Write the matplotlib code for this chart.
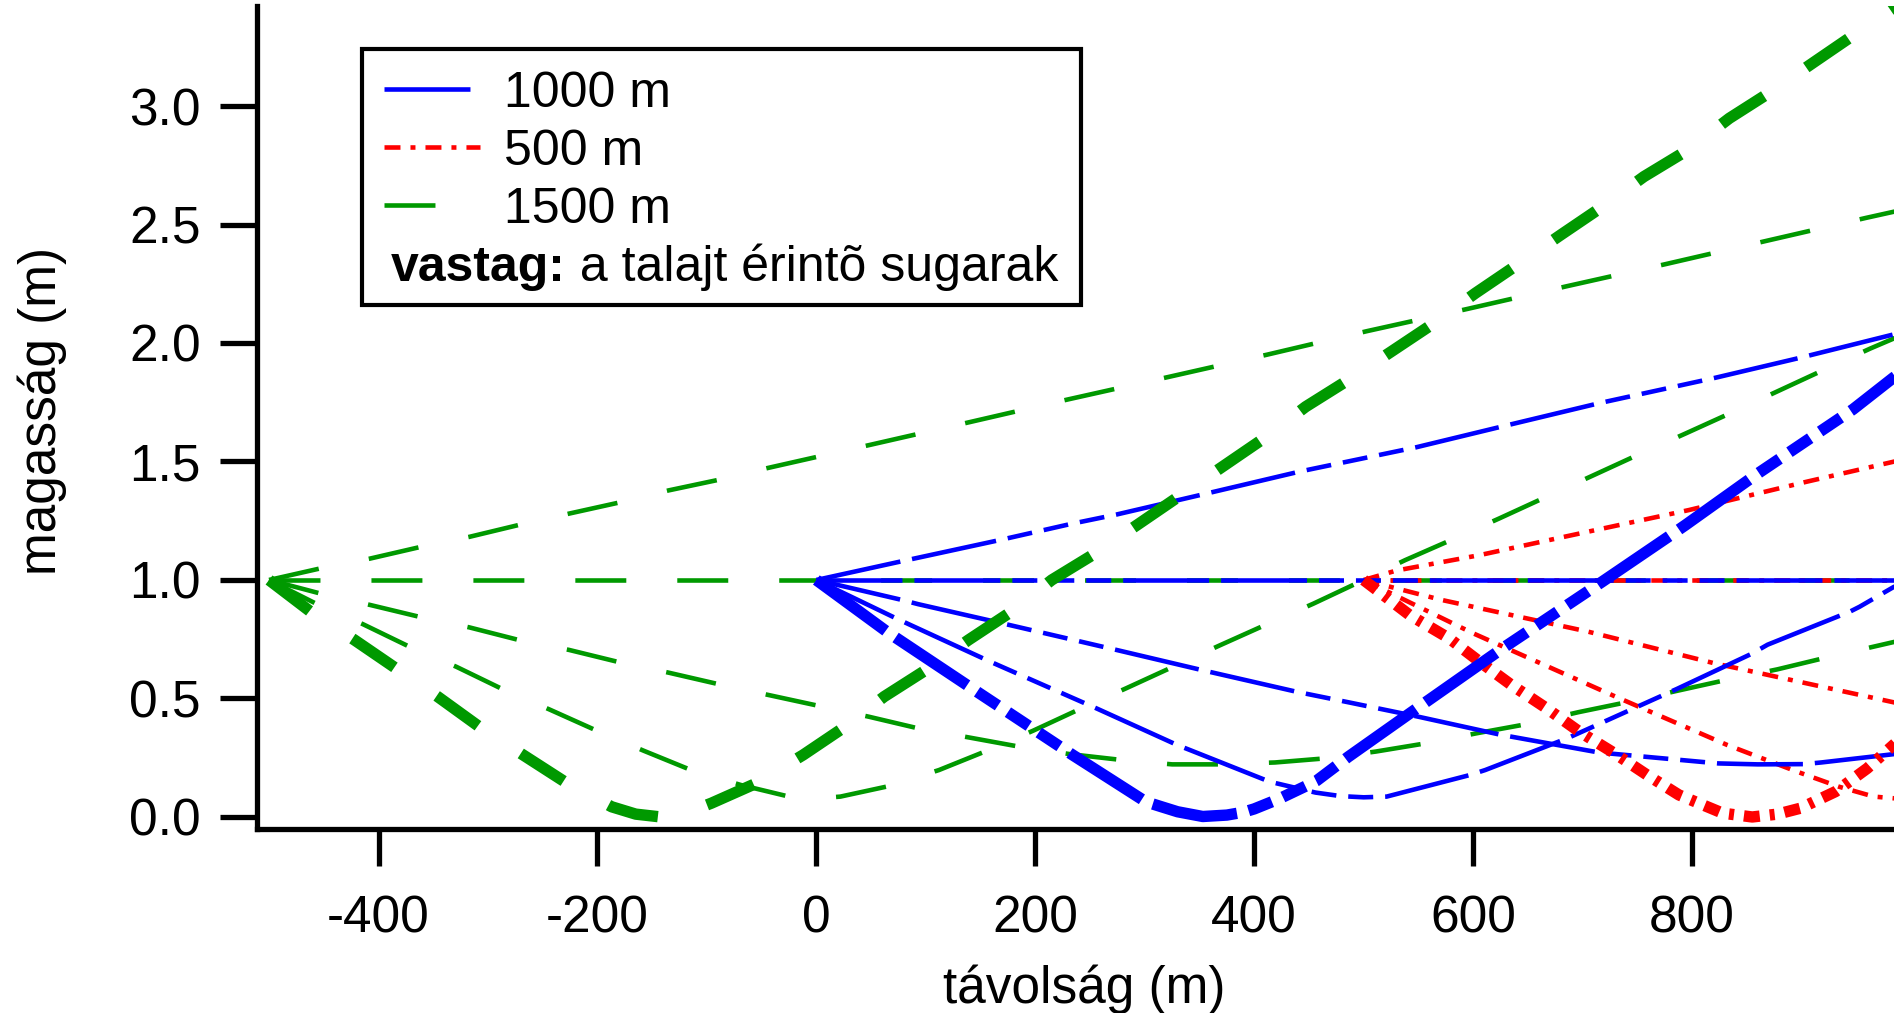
import matplotlib
matplotlib.use("Agg")
import matplotlib.pyplot as plt
from matplotlib.patches import Rectangle

plt.rcParams['font.family'] = ['Liberation Sans', 'DejaVu Sans']
plt.rcParams['axes.unicode_minus'] = False
plt.rcParams['lines.scale_dashes'] = False

# --- ray paths (distance m, height m) ---
# 1500 m source at x = -500
g_up_x = [-500, -454, -408, -363, -317, -272, -226, -180, -135, -89, -44, 48, 139, 229, 321, 412, 503, 595, 686, 776, 867, 959, 1000]
g_up_y = [1.0, 1.048, 1.09, 1.138, 1.182, 1.232, 1.28, 1.327, 1.378, 1.423, 1.473, 1.569, 1.665, 1.761, 1.856, 1.951, 2.05, 2.144, 2.24, 2.333, 2.43, 2.528, 2.57]
g_h_x = [-500, 1000]
g_h_y = [1.0, 1.0]
g_d1_x = [-500, -454, -408, -363, -317, -272, -226, -180, -135, -89, -44, 48, 93, 140, 185, 232, 278, 325, 371, 419, 464, 511, 557, 603, 648, 696, 740, 786, 831, 878, 922, 969, 1000]
g_d1_y = [1.0, 0.944, 0.895, 0.845, 0.80, 0.747, 0.705, 0.653, 0.609, 0.56, 0.515, 0.423, 0.374, 0.335, 0.297, 0.265, 0.241, 0.222, 0.222, 0.23, 0.247, 0.276, 0.311, 0.353, 0.391, 0.442, 0.484, 0.532, 0.578, 0.623, 0.672, 0.722, 0.755]
g_d2_x = [-500, -457, -414, -372, -329, -287, -244, -202, -158, -115, -69, -25, 0, 22, 67, 112, 155, 198, 240, 283, 325, 368, 410, 454, 500, 538, 580, 624, 665, 709, 750, 794, 836, 878, 921, 963, 1000]
g_d2_y = [1.0, 0.90, 0.813, 0.719, 0.634, 0.54, 0.454, 0.367, 0.28, 0.199, 0.135, 0.086, 0.078, 0.086, 0.131, 0.198, 0.278, 0.364, 0.454, 0.543, 0.632, 0.723, 0.81, 0.90, 1.0, 1.084, 1.169, 1.26, 1.347, 1.44, 1.527, 1.618, 1.706, 1.796, 1.888, 1.977, 2.05]
g_t_x = [-500, -462, -422, -384, -346, -308, -268, -230, -187, -165, -142, -120, -96, -55, -12, 24, 62, 100, 139, 178, 215, 255, 293, 331, 371, 409, 447, 486, 525, 564, 602, 640, 680, 718, 756, 796, 834, 872, 912, 950, 1000]
g_t_y = [1.0, 0.866, 0.747, 0.627, 0.508, 0.381, 0.262, 0.149, 0.043, 0.012, 0.0, 0.015, 0.058, 0.142, 0.262, 0.374, 0.508, 0.62, 0.747, 0.866, 1.0, 1.113, 1.232, 1.352, 1.478, 1.598, 1.731, 1.844, 1.963, 2.083, 2.21, 2.329, 2.456, 2.575, 2.702, 2.814, 2.948, 3.06, 3.187, 3.307, 3.465]

# 1000 m source at x = 0
b_up_x = [0, 77, 169, 233, 274, 352, 442, 548, 624, 716, 821, 899, 984, 1000]
b_up_y = [1.0, 1.078, 1.17, 1.237, 1.276, 1.36, 1.458, 1.56, 1.645, 1.747, 1.853, 1.938, 2.036, 2.053]
b_h_x = [0, 1000]
b_h_y = [1.0, 1.0]
b_d1_x = [0, 78, 93, 169, 274, 352, 439, 486, 549, 624, 715, 824, 860, 902, 918, 984, 1000]
b_d1_y = [1.0, 0.916, 0.898, 0.818, 0.705, 0.62, 0.528, 0.484, 0.424, 0.348, 0.272, 0.226, 0.222, 0.223, 0.23, 0.265, 0.278]
b_d2_x = [0, 72, 86, 159, 256, 330, 341, 414, 456, 479, 500, 521, 597, 611, 686, 786, 855, 869, 944, 953, 984, 1000]
b_d2_y = [1.0, 0.84, 0.81, 0.655, 0.458, 0.303, 0.283, 0.149, 0.103, 0.088, 0.083, 0.086, 0.177, 0.198, 0.332, 0.54, 0.69, 0.727, 0.866, 0.887, 0.97, 1.0]
b_t_x = [0, 65, 143, 234, 301, 314, 330, 353, 375, 390, 400, 422, 447, 457, 486, 551, 564, 627, 718, 783, 794, 858, 947, 984, 1000]
b_t_y = [1.0, 0.78, 0.54, 0.262, 0.064, 0.045, 0.022, 0.002, 0.008, 0.02, 0.034, 0.075, 0.13, 0.153, 0.254, 0.466, 0.508, 0.712, 0.993, 1.197, 1.232, 1.443, 1.72, 1.854, 1.905]

# 500 m source at x = 500
r_up_x = [500, 530, 606, 684, 797, 905, 984, 1000]
r_up_y = [1.0, 1.04, 1.105, 1.183, 1.295, 1.415, 1.499, 1.515]
r_h_x = [500, 1000]
r_h_y = [1.0, 1.0]
r_d1_x = [500, 571, 705, 820, 984, 1000]
r_d1_y = [1.0, 0.916, 0.782, 0.649, 0.484, 0.468]
r_d2_x = [500, 600, 730, 832, 896, 934, 966, 984, 1000]
r_d2_y = [1.0, 0.775, 0.508, 0.304, 0.191, 0.128, 0.086, 0.079, 0.077]
r_t_x = [500, 542, 578, 606, 635, 667, 697, 729, 759, 788, 828, 855, 878, 899, 931, 960, 984, 1000]
r_t_y = [1.0, 0.852, 0.754, 0.655, 0.557, 0.459, 0.36, 0.269, 0.177, 0.093, 0.016, 0.0, 0.012, 0.037, 0.107, 0.205, 0.304, 0.37]

x_ticks = [-400, -200, 0, 200, 400, 600, 800]
y_ticks = [0.0, 0.5, 1.0, 1.5, 2.0, 2.5, 3.0]
labels = ['1000 m', '500 m', '1500 m']

GREEN = '#009900'
BLUE = '#0000ff'
RED = '#ff0000'
green_ls = (0, (36.7, 36.7))
blue_ls = (0, (61.9, 8.6, 61.9, 8.6, 18, 8.6, 18, 8.6, 18, 8.6))
red_ls = (0, (11.5, 7.2, 3.6, 7.2))
thin = 3.3
thick = 8.2

W, H = 1894, 1013
fig = plt.figure(figsize=(W / 100, H / 100), dpi=100)
ax = fig.add_axes([257 / W, 1 - 829.3 / H, (1911 - 257) / W, 823.3 / H])

# thin rays
thin_rays = [
    (GREEN, green_ls, [(g_up_x, g_up_y), (g_h_x, g_h_y), (g_d1_x, g_d1_y), (g_d2_x, g_d2_y)]),
    (RED, red_ls, [(r_up_x, r_up_y), (r_h_x, r_h_y), (r_d1_x, r_d1_y), (r_d2_x, r_d2_y)]),
    (BLUE, blue_ls, [(b_up_x, b_up_y), (b_h_x, b_h_y), (b_d1_x, b_d1_y), (b_d2_x, b_d2_y)]),
]
handles = {}
for color, ls, rays in thin_rays:
    for xs, ys in rays:
        line, = ax.plot(xs, ys, color=color, linestyle=ls, linewidth=thin)
        handles.setdefault(color, line)

# thick rays: the ones touching the ground
ax.plot(g_t_x, g_t_y, color=GREEN, linestyle=green_ls, linewidth=thick)
ax.plot(r_t_x, r_t_y, color=RED, linestyle=red_ls, linewidth=thick)
ax.plot(b_t_x, b_t_y, color=BLUE, linestyle=blue_ls, linewidth=thick)

ax.set_xlim(-511, 1000)
ax.set_ylim(-0.052, 3.422)
ax.set_xticks(x_ticks)
ax.set_yticks(y_ticks)
ax.set_yticklabels([f'{v:.1f}' for v in y_ticks])
for side in ['top', 'right']:
    ax.spines[side].set_visible(False)
for side in ['left', 'bottom']:
    ax.spines[side].set_linewidth(3.8)
ax.tick_params(direction='out', length=26.6, width=3.8, labelsize=37)
ax.tick_params(axis='y', pad=14)
ax.tick_params(axis='x', pad=20)

ax.set_xlabel('távolság (m)', fontsize=37)
ax.xaxis.label.set_va('baseline')
ax.xaxis.set_label_coords(0.5, (829.3 - 1003) / 823.3)
ax.set_ylabel('magasság (m)', fontsize=37, va='center')
ax.yaxis.set_label_coords((42 - 257) / 1654, 0.508)

leg = ax.legend([handles[BLUE], handles[RED], handles[GREEN]], labels,
                loc='upper left', bbox_to_anchor=(384 / W, 1 - 71 / H),
                bbox_transform=fig.transFigure, frameon=False, fontsize=36,
                handlelength=1.92, handletextpad=0.48, labelspacing=0.24,
                borderpad=0, borderaxespad=0)
leg.set_zorder(5)

# legend frame and the extra line about the thick rays
fig.add_artist(Rectangle((361.6 / W, 1 - 305 / H), (1081 - 361.6) / W, (305 - 49.3) / H,
                         transform=fig.transFigure, fill=False, edgecolor='black',
                         linewidth=3.0, zorder=6))
t1 = fig.text(391 / W, 1 - 281 / H, 'vastag:', fontsize=36, fontweight='bold', va='baseline')
ax.annotate(' a talajt érintõ sugarak', xy=(1, 0), xycoords=t1, fontsize=36,
            va='bottom', ha='left', annotation_clip=False)

fig.savefig('out.png', dpi=100)
